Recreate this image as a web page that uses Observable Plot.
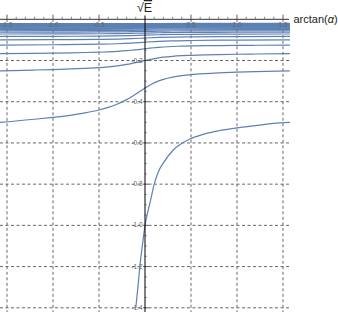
<!DOCTYPE html>
<html>
<head>
<meta charset="utf-8">
<script src="https://cdn.jsdelivr.net/npm/d3@7"></script>
<script src="https://cdn.jsdelivr.net/npm/@observablehq/plot@0.6"></script>
<style>
  html, body { margin: 0; padding: 0; background: #fff; }
  #chart { width: 338px; height: 312px; }
  svg { font-family: "Liberation Sans", Arial, sans-serif; overflow: visible; }
</style>
</head>
<body>
<div id="chart"></div>
<script>
// ---- tick labels ----
const xTickValues = [-1.5, -1.0, -0.5, 0.5, 1.0, 1.5];
const xTickLabels = ["-1.5", "-1.0", "-0.5", "0.5", "1.0", "1.5"];
const yTickValues = [-0.2, -0.4, -0.6, -0.8, -1.0, -1.2, -1.4];
const yTickLabels = ["-0.2", "-0.4", "-0.6", "-0.8", "-1.0", "-1.2", "-1.4"];
const xMinorTicks = [-1.4,-1.3,-1.2,-1.1,-0.9,-0.8,-0.7,-0.6,-0.4,-0.3,-0.2,-0.1,0.1,0.2,0.3,0.4,0.6,0.7,0.8,0.9,1.1,1.2,1.3,1.4];
const yMinorTicks = [-0.05,-0.1,-0.15,-0.25,-0.3,-0.35,-0.45,-0.5,-0.55,-0.65,-0.7,-0.75,-0.85,-0.9,-0.95,-1.05,-1.1,-1.15,-1.25,-1.3,-1.35];

// ---- curve samples ----
const level0X = [-0.1, -0.075, -0.05, -0.025, 0, 0.03, 0.06, 0.1, 0.15, 0.2, 0.3, 0.4, 0.5, 0.65, 0.8, 1.0, 1.2, 1.4, 1.571];
const level0Y = [-1.40, -1.29, -1.175, -1.085, -1.0, -0.935, -0.88, -0.80, -0.735, -0.697, -0.638, -0.602, -0.579, -0.556, -0.541, -0.527, -0.516, -0.505, -0.5];

const xFine = [-1.571, -1.2, -1.0, -0.8, -0.65, -0.5, -0.4, -0.3, -0.2, -0.15, -0.1, -0.05, 0, 0.05, 0.1, 0.15, 0.2, 0.3, 0.4, 0.5, 0.65, 0.8, 1.0, 1.2, 1.571];
const level1 = [-0.5, -0.4851, -0.4757, -0.4648, -0.4541, -0.4401, -0.4274, -0.4111, -0.3897, -0.3768, -0.3627, -0.3479, -0.3333, -0.3199, -0.3084, -0.2989, -0.2912, -0.2803, -0.2732, -0.2682, -0.2633, -0.2598, -0.2565, -0.2539, -0.25];
const level2 = [-0.25, -0.2462, -0.2438, -0.2409, -0.238, -0.2341, -0.2304, -0.2256, -0.219, -0.2149, -0.2102, -0.2052, -0.2, -0.1951, -0.1907, -0.1871, -0.184, -0.1796, -0.1767, -0.1746, -0.1725, -0.171, -0.1695, -0.1684, -0.1667];
const level3 = [-0.1667, -0.165, -0.1639, -0.1626, -0.1612, -0.1594, -0.1577, -0.1555, -0.1523, -0.1503, -0.148, -0.1455, -0.1429, -0.1403, -0.1381, -0.1361, -0.1345, -0.1321, -0.1305, -0.1294, -0.1282, -0.1274, -0.1266, -0.126, -0.125];

const xMid = [-1.571, -1.0, -0.5, -0.3, -0.15, 0, 0.15, 0.3, 0.5, 1.0, 1.571];
const level4 = [-0.125, -0.1234, -0.1209, -0.1186, -0.1156, -0.1111, -0.107, -0.1045, -0.1028, -0.101, -0.1];
const level5 = [-0.1, -0.099, -0.0974, -0.0959, -0.0939, -0.0909, -0.0881, -0.0864, -0.0853, -0.084, -0.0833];
const level6 = [-0.0833, -0.0826, -0.0815, -0.0804, -0.079, -0.0769, -0.0749, -0.0737, -0.0728, -0.072, -0.0714];
const level7 = [-0.0714, -0.0709, -0.0701, -0.0693, -0.0682, -0.0667, -0.0652, -0.0642, -0.0636, -0.0629, -0.0625];
const level8 = [-0.0625, -0.0621, -0.0615, -0.0609, -0.06, -0.0588, -0.0577, -0.0569, -0.0564, -0.0559, -0.0556];

const xCoarse = [-1.571, -0.5, 0, 0.5, 1.571];
const level9  = [-0.0556, -0.0547, -0.0526, -0.0507, -0.05];
const level10 = [-0.05, -0.0493, -0.0476, -0.046, -0.0455];
const level11 = [-0.0455, -0.0449, -0.0435, -0.0421, -0.0417];
const level12 = [-0.0417, -0.0412, -0.04, -0.0389, -0.0385];
const level13 = [-0.0385, -0.0381, -0.037, -0.0361, -0.0357];
const level14 = [-0.0357, -0.0354, -0.0345, -0.0336, -0.0333];
const level15 = [-0.0333, -0.033, -0.0323, -0.0315, -0.0313];
const level16 = [-0.0313, -0.031, -0.0303, -0.0297, -0.0294];
const level17 = [-0.0294, -0.0292, -0.0286, -0.028, -0.0278];
const level18 = [-0.0278, -0.0276, -0.027, -0.0265, -0.0263];
const level19 = [-0.0263, -0.0261, -0.0256, -0.0252, -0.025];
const level20 = [-0.025, -0.0248, -0.0244, -0.024, -0.0238];
const level21 = [-0.0238, -0.0237, -0.0233, -0.0229, -0.0227];
const level22 = [-0.0227, -0.0226, -0.0222, -0.0219, -0.0217];
const level23 = [-0.0217, -0.0216, -0.0213, -0.021, -0.0208];
const level24 = [-0.0208, -0.0207, -0.0204, -0.0201, -0.02];

// ---- build table ----
const rows = [];
function add(xs, ys, id) { xs.forEach((x, i) => rows.push({x, y: ys[i], id})); }
add(level0X, level0Y, 0);
[level1, level2, level3].forEach((ys, i) => add(xFine, ys, i + 1));
[level4, level5, level6, level7, level8].forEach((ys, i) => add(xMid, ys, i + 4));
[level9, level10, level11, level12, level13, level14, level15, level16, level17, level18, level19, level20, level21, level22, level23, level24]
  .forEach((ys, i) => add(xCoarse, ys, i + 9));

const XMIN = -1.5708, XMAX = 1.5708;
const gridStyle = {stroke: "#555", strokeWidth: 0.9, strokeDasharray: "3,2.5"};
const axisColor = "#333";

const chart = Plot.plot({
  width: 338,
  height: 312,
  marginTop: 0, marginRight: 0, marginBottom: 0, marginLeft: 0,
  style: {background: "#fff", fontFamily: "Liberation Sans, Arial, sans-serif"},
  x: {domain: [XMIN, XMAX], range: [0, 289], axis: null},
  y: {domain: [-1.4, 0], range: [307.3, 18.8], axis: null},
  marks: [
    Plot.ruleX(xTickValues, {x: d => d, y1: 0, y2: -1.43, ...gridStyle}),
    Plot.ruleY(yTickValues, {y: d => d, x1: XMIN, x2: XMAX, ...gridStyle}),
    Plot.line(rows, {x: "x", y: "y", z: "id", stroke: "#5E81B5", strokeWidth: 1.2, curve: "monotone-x"}),
    // axes
    Plot.ruleY([0], {y: d => d, x1: XMIN, x2: XMAX, stroke: axisColor, strokeWidth: 1}),
    Plot.ruleX([0], {x: d => d, y1: 0.016, y2: -1.43, stroke: "#000", strokeWidth: 1}),
    Plot.ruleX(xTickValues, {x: d => d, y1: 0, y2: 0.02, stroke: axisColor, strokeWidth: 0.8}),
    Plot.ruleX(xMinorTicks, {x: d => d, y1: 0, y2: 0.01, stroke: axisColor, strokeWidth: 0.6}),
    Plot.ruleY(yTickValues, {y: d => d, x1: 0, x2: 0.045, stroke: axisColor, strokeWidth: 0.8}),
    Plot.ruleY(yMinorTicks, {y: d => d, x1: 0, x2: 0.024, stroke: axisColor, strokeWidth: 0.6}),
    Plot.text(xTickValues, {x: d => d, y: 0, dy: 6, text: (d, i) => xTickLabels[i], fontSize: 6.5, fill: "#666", lineAnchor: "middle", textAnchor: "middle"}),
    Plot.text(yTickValues, {x: 0, y: d => d, dx: -2.5, text: (d, i) => yTickLabels[i], fontSize: 6.5, fill: "#666", textAnchor: "end", lineAnchor: "middle"})
  ]
});

document.getElementById("chart").appendChild(chart);

const svg = d3.select(chart);
// x-axis label arctan(α) with italic α
const xl = svg.append("text")
  .attr("x", 293.5).attr("y", 22.5)
  .attr("text-anchor", "start")
  .attr("font-size", 11)
  .attr("fill", "#222")
  .attr("font-family", "Liberation Sans, Arial, sans-serif");
xl.append("tspan").text("arctan(");
xl.append("tspan").attr("font-style", "italic").text("α");
xl.append("tspan").text(")");

// y-axis label √E with overline on E
const t = svg.append("text")
  .attr("x", 144.5).attr("y", 12)
  .attr("text-anchor", "middle")
  .attr("font-size", 12.5)
  .attr("fill", "#222")
  .attr("font-family", "Liberation Sans, Arial, sans-serif");
t.append("tspan").text("√");
t.append("tspan").attr("text-decoration", "overline").style("text-decoration", "overline").text("E");
</script>
</body>
</html>
